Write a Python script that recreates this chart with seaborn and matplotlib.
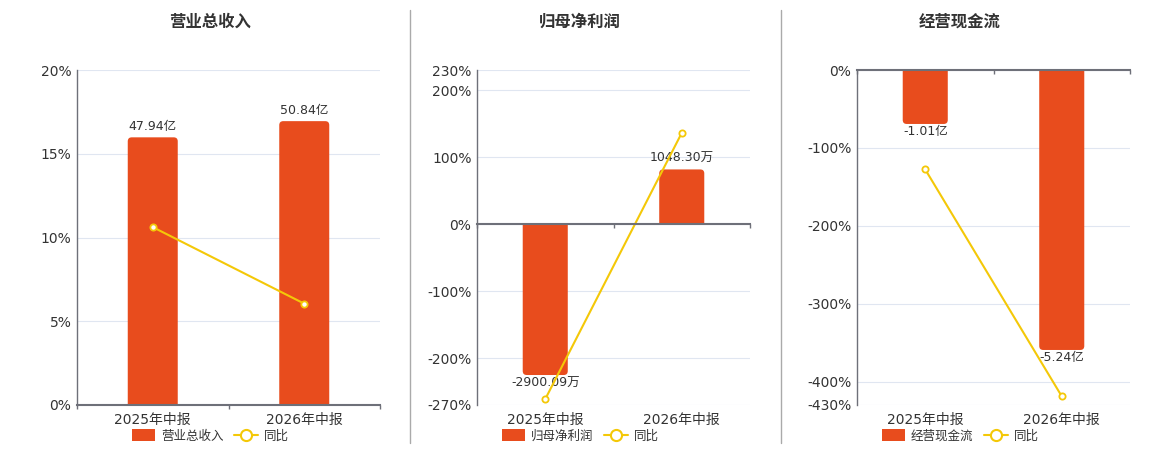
import matplotlib
matplotlib.use('Agg')
import matplotlib.pyplot as plt
from matplotlib.lines import Line2D
from matplotlib.patches import Patch, PathPatch
from matplotlib.path import Path
import pandas as pd
import seaborn as sns

# report periods (x categories)
periods = ['2025年中报', '2026年中报']

# 营业总收入 (亿) and 同比 (%)
revenue = [47.94, 50.84]
revenue_yoy = [10.62, 6.05]

# 归母净利润 (万) and 同比 (%)
profit = [-2900.09, 1048.30]
profit_yoy = [-261.2, 136.1]

# 经营现金流 (亿) and 同比 (%)
cashflow = [-1.01, -5.24]
cashflow_yoy = [-127.7, -418.8]

titles = ['营业总收入', '归母净利润', '经营现金流']
units = ['亿', '万', '亿']
pct_ticks = [[0, 5, 10, 15, 20],
             [-270, -200, -100, 0, 100, 200, 230],
             [-430, -400, -300, -200, -100, 0]]

BAR = '#e84c1d'
LINE = '#f4c808'
AXIS = '#6e7079'
GRID = '#e0e6f1'
TEXT = '#333333'

sns.set_theme(style='white')
plt.rcParams['font.family'] = ['DejaVu Sans', 'Noto Sans CJK SC']

W, H = 1160, 450
fig = plt.figure(figsize=(W / 100, H / 100), dpi=100)


def fx(px):
    return px / W


def fy(px):
    return 1 - px / H


def round_bars(axb, radius_px=4):
    """redraw seaborn's bars with rounded corners at the far end"""
    bb = axb.get_window_extent()
    x0, x1 = axb.get_xlim()
    y0, y1 = axb.get_ylim()
    rx = radius_px * (x1 - x0) / bb.width
    ry = radius_px * (y1 - y0) / bb.height
    for p in list(axb.patches):
        x, w = p.get_x(), p.get_width()
        base = 0
        end = p.get_y() + p.get_height() if p.get_y() == 0 else p.get_y()
        s = 1 if end >= base else -1
        verts = [(x, base), (x, end - s * ry), (x, end), (x + rx, end),
                 (x + w - rx, end), (x + w, end), (x + w, end - s * ry),
                 (x + w, base), (x, base)]
        codes = [Path.MOVETO, Path.LINETO, Path.CURVE3, Path.CURVE3,
                 Path.LINETO, Path.CURVE3, Path.CURVE3, Path.LINETO,
                 Path.CLOSEPOLY]
        axb.add_patch(PathPatch(Path(verts, codes), fc=BAR, ec='none', lw=0))
        p.remove()


# plot boxes in pixels: left, right ; top=70, bottom=405
boxes = [(77, 380), (477, 750), (857, 1130)]
centers = [210, 580, 960]
bar_lims = [(0, 60), (-3476, 2958), (-6.27, 0)]

panels = [(revenue, revenue_yoy), (profit, profit_yoy), (cashflow, cashflow_yoy)]

for i, ((vals, yoy), (l, r)) in enumerate(zip(panels, boxes)):
    rect = [fx(l), fy(405), fx(r) - fx(l), fy(70) - fy(405)]
    ticks = pct_ticks[i]
    plim = (min(ticks), max(ticks))
    df = pd.DataFrame({'period': periods, 'value': vals, 'yoy': yoy,
                       'pos': range(len(periods))})

    # percent axis: ticks, grid, left spine
    ax = fig.add_axes(rect)
    ax.set_ylim(*plim)
    ax.set_xlim(-0.5, len(periods) - 0.5)
    ax.set_yticks(ticks)
    ax.set_yticklabels([f'{t}%' for t in ticks])
    ax.set_xticks(range(len(periods)))
    ax.set_xticklabels(periods)
    ax.tick_params(axis='x', length=0, pad=6, labelsize=10, labelcolor=TEXT)
    ax.tick_params(axis='y', length=0, pad=4, labelsize=10, labelcolor=TEXT)
    ax.grid(axis='y', color=GRID, lw=0.8)
    for s in ['top', 'right', 'bottom']:
        ax.spines[s].set_visible(False)
    ax.spines['left'].set_color(AXIS)
    ax.spines['left'].set_linewidth(1)

    # bar axis
    axb = fig.add_axes(rect)
    axb.patch.set_visible(False)
    sns.barplot(data=df, x='period', y='value', ax=axb, color=BAR,
                width=0.33, saturation=1, edgecolor='none')
    axb.set_ylim(*bar_lims[i])
    axb.set_xlim(-0.5, len(periods) - 0.5)
    axb.axis('off')
    round_bars(axb)
    for p, v in zip(df['pos'], vals):
        label = f'{v:.2f}{units[i]}'
        if v >= 0:
            axb.annotate(label, (p, v), xytext=(0, 3), textcoords='offset points',
                         ha='center', va='bottom', fontsize=9, color=TEXT)
        else:
            axb.annotate(label, (p, v), xytext=(0, -1), textcoords='offset points',
                         ha='center', va='top', fontsize=9, color=TEXT)

    # line axis with zero axis line
    axl = fig.add_axes(rect)
    axl.patch.set_visible(False)
    sns.lineplot(data=df, x='pos', y='yoy', ax=axl, color=LINE, lw=1.5,
                 marker='o', markersize=4.5, markerfacecolor='white',
                 markeredgecolor=LINE, markeredgewidth=1.3)
    axl.set_ylim(*plim)
    axl.set_xlim(-0.5, len(periods) - 0.5)
    axl.set_yticks([])
    axl.set_xlabel('')
    axl.set_ylabel('')
    for s in ['top', 'right', 'left']:
        axl.spines[s].set_visible(False)
    axl.spines['bottom'].set_position(('data', 0))
    axl.spines['bottom'].set_color(AXIS)
    axl.spines['bottom'].set_linewidth(1.5)
    axl.set_xticks([-0.5, 0.5, len(periods) - 0.5])
    axl.set_xticklabels([])
    axl.tick_params(axis='x', direction='out', length=3, width=1, color=AXIS,
                    bottom=True)

    fig.text(fx(centers[i]), fy(22), titles[i], ha='center', va='center',
             fontsize=11.8, fontweight='bold', color=TEXT)

    handles = [Patch(facecolor=BAR, edgecolor='none', label=titles[i]),
               Line2D([0], [0], color=LINE, lw=1.5, marker='o', markersize=8,
                      markerfacecolor='white', markeredgecolor=LINE,
                      markeredgewidth=1.5, label='同比')]
    leg = fig.legend(handles=handles, loc='center',
                     bbox_to_anchor=(fx(centers[i]), fy(436)), ncol=2,
                     frameon=False, fontsize=9, handlelength=1.9,
                     handleheight=1.1, handletextpad=0.45, columnspacing=0.85,
                     borderpad=0)
    for t in leg.get_texts():
        t.set_color(TEXT)

# separators between the panels
for x in [410, 781]:
    fig.add_artist(Line2D([fx(x), fx(x)], [fy(10), fy(443)], color='#aaaaaa', lw=1))

fig.savefig('out.png', dpi=100)
